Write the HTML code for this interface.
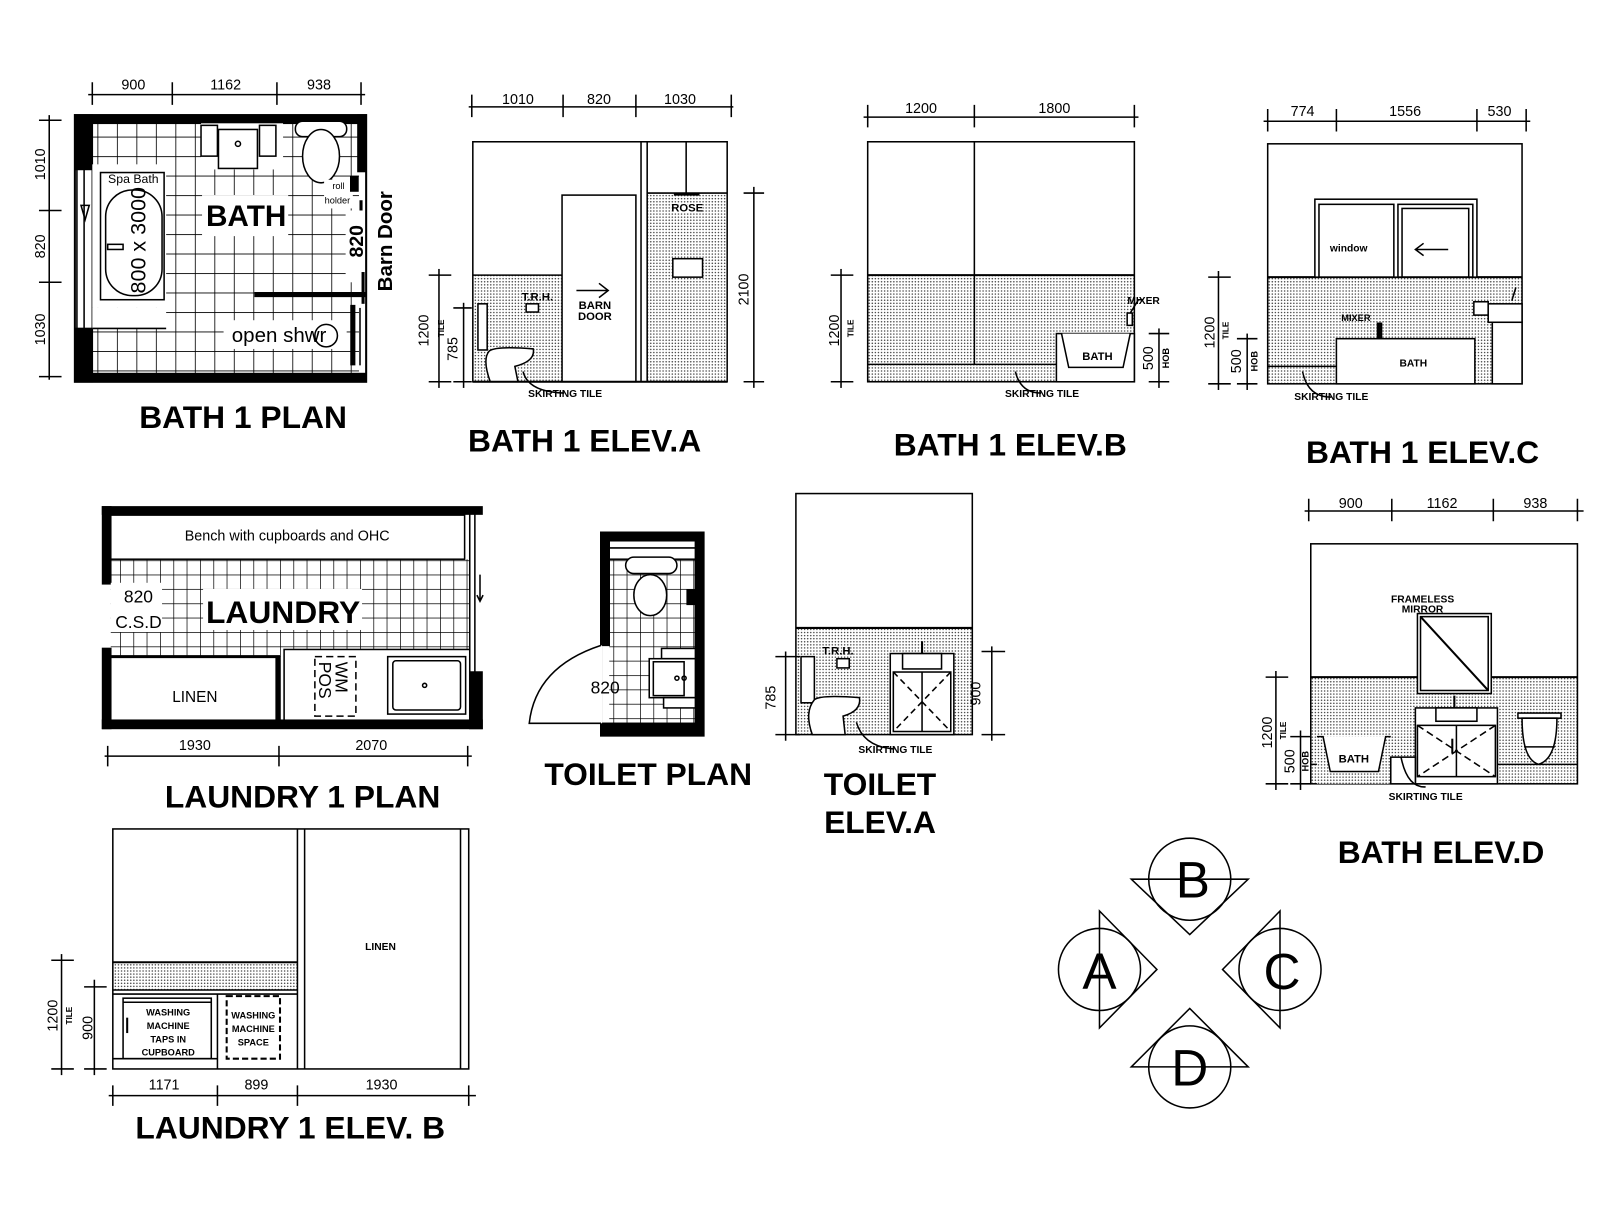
<!DOCTYPE html>
<html><head><meta charset="utf-8"><style>
html,body{margin:0;padding:0;background:#fff;}
svg{display:block;}
text{font-family:"Liberation Sans",sans-serif;fill:#000;}
.t{font-weight:bold;font-size:31px;text-anchor:middle;}
.d{font-size:14px;text-anchor:middle;}
.s{font-size:9px;font-weight:bold;text-anchor:middle;}
</style></head><body>
<svg width="1600" height="1222" viewBox="0 0 1560 1191" xmlns="http://www.w3.org/2000/svg">
<defs>
<pattern id="dots" width="3" height="3" patternUnits="userSpaceOnUse"><rect width="3" height="3" fill="#fff"/><circle cx="1.5" cy="1.5" r="0.75" fill="#444"/></pattern>
<pattern id="tile" width="19" height="19" patternUnits="userSpaceOnUse"><rect width="19" height="19" fill="#fff"/><path d="M0 0H19M0 0V19" stroke="#000" stroke-width="1.6"/></pattern>
<pattern id="tile2" width="13" height="14" patternUnits="userSpaceOnUse"><rect width="13" height="14" fill="#fff"/><path d="M0 0H13M0 0V14" stroke="#000" stroke-width="1.4"/></pattern>
</defs>
<g fill="none" stroke="#000" stroke-width="1.5">

<!-- ================= BATH 1 PLAN ================= -->
<rect x="90" y="120" width="260" height="245" fill="url(#tile)" stroke="none"/>
<rect x="73" y="112" width="284" height="260" stroke-width="2"/>
<rect x="73" y="112" width="284" height="8" fill="#000"/>
<rect x="73" y="364" width="284" height="8" fill="#000"/>
<rect x="73" y="112" width="17" height="53" fill="#000"/>
<rect x="73" y="320" width="17" height="52" fill="#000"/>
<rect x="349" y="112" width="8" height="55" fill="#000"/>
<rect x="75" y="165" width="15" height="155" fill="#fff"/>
<line x1="82" y1="165" x2="82" y2="320"/>
<path d="M79 200 L87 200 L83 214 Z"/>
<rect x="90" y="160" width="72" height="140" fill="#fff" stroke="none"/>
<rect x="98" y="168" width="62" height="124" fill="#fff"/>
<rect x="103" y="185" width="55" height="103" rx="26" fill="#fff"/>
<rect x="90" y="300" width="72" height="20" fill="#fff" stroke="none"/>
<line x1="90" y1="320" x2="162" y2="320"/>
<text x="130" y="178" style="font-size:12px" text-anchor="middle" stroke="none">Spa Bath</text>
<text transform="translate(142,234) rotate(-90)" style="font-size:21px" text-anchor="middle" stroke="none">800 x 3000</text>
<rect x="105" y="238" width="15" height="5" fill="#fff"/>
<rect x="196" y="120" width="80" height="45" fill="#fff" stroke="none"/>
<rect x="196" y="122" width="16" height="30" fill="#fff"/>
<rect x="253" y="122" width="16" height="30" fill="#fff"/>
<rect x="213" y="126" width="38" height="38" fill="#fff"/>
<circle cx="232" cy="140" r="2.5"/>
<rect x="288" y="118" width="50" height="15" rx="7" fill="#fff"/>
<ellipse cx="313" cy="152" rx="18" ry="26" fill="#fff"/>
<rect x="197" y="190" width="84" height="40" fill="#fff" stroke="none"/>
<text x="240" y="220" style="font-size:29px;font-weight:bold" text-anchor="middle" stroke="none">BATH</text>
<rect x="316" y="175" width="28" height="28" fill="#fff" stroke="none"/>
<text x="330" y="184" style="font-size:9px" text-anchor="middle" stroke="none">roll</text>
<text x="329" y="198" style="font-size:9px" text-anchor="middle" stroke="none">holder</text>
<rect x="342" y="172" width="7" height="14" fill="#000"/>
<line x1="352" y1="195" x2="352" y2="270" stroke-width="3"/>
<rect x="337" y="205" width="18" height="70" fill="#fff" stroke="none"/>
<text transform="translate(354,235) rotate(-90)" style="font-size:19px;font-weight:bold" text-anchor="middle" stroke="none">820</text>
<text transform="translate(382,235) rotate(-90)" style="font-size:20px;font-weight:bold" text-anchor="middle" stroke="none">Barn Door</text>
<line x1="248" y1="287" x2="357" y2="287" stroke-width="5"/>
<line x1="354" y1="265" x2="354" y2="296" stroke-width="3"/>
<rect x="218" y="312" width="120" height="28" fill="#fff" stroke="none"/>
<text x="226" y="333" style="font-size:20px" stroke="none">open  shwr</text>
<circle cx="318" cy="327" r="11"/>
<line x1="344" y1="297" x2="344" y2="356" stroke-width="5"/>
<line x1="351" y1="300" x2="351" y2="356"/>
<!-- dims -->
<line x1="86" y1="92" x2="356" y2="92"/>
<path d="M90 80V102M168 80V102M270 80V102M352 80V102"/>
<text x="130" y="87" class="d" stroke="none">900</text>
<text x="220" y="87" class="d" stroke="none">1162</text>
<text x="311" y="87" class="d" stroke="none">938</text>
<line x1="48" y1="112" x2="48" y2="370"/>
<path d="M38 117H60M38 205H60M38 275H60M38 367H60"/>
<text transform="translate(44,160) rotate(-90)" class="d" stroke="none">1010</text>
<text transform="translate(44,240) rotate(-90)" class="d" stroke="none">820</text>
<text transform="translate(44,321) rotate(-90)" class="d" stroke="none">1030</text>
<text x="237" y="417" class="t" stroke="none">BATH 1 PLAN</text>

<!-- ================= BATH 1 ELEV A ================= -->
<rect x="461" y="268" width="87" height="104" fill="url(#dots)" stroke="none"/>
<rect x="631" y="188" width="78" height="184" fill="url(#dots)" stroke="none"/>
<rect x="461" y="138" width="248" height="234"/>
<line x1="461" y1="268" x2="548" y2="268"/>
<line x1="631" y1="188" x2="709" y2="188"/>
<line x1="625" y1="138" x2="625" y2="372"/>
<line x1="631" y1="138" x2="631" y2="372"/>
<line x1="669" y1="138" x2="669" y2="188"/>
<line x1="657" y1="189" x2="682" y2="189" stroke-width="3"/>
<rect x="548" y="190" width="72" height="182" fill="#fff"/>
<path d="M562 283H593M584 276L593 283L584 290"/>
<text x="580" y="301" class="s" stroke="none" style="font-size:11px">BARN</text>
<text x="580" y="312" class="s" stroke="none" style="font-size:11px">DOOR</text>
<rect x="655" y="199" width="30" height="8" fill="#fff" stroke="none"/>
<text x="670" y="206" class="s" stroke="none" style="font-size:11px">ROSE</text>
<rect x="656" y="252" width="29" height="18" fill="#fff"/>
<rect x="513" y="296" width="12" height="8" fill="#fff"/>
<text x="524" y="293" class="s" stroke="none" style="font-size:11px">T.R.H.</text>
<rect x="466" y="296" width="9" height="45" fill="#fff"/>
<path d="M477 342 Q484 337 520 340 Q522 352 502 357 L505 372 L478 372 Q470 350 477 342Z" fill="#fff"/>
<line x1="461" y1="372" x2="709" y2="372" stroke-width="2"/>
<path d="M510 362 Q515 382 550 383"/>
<text x="551" y="387" class="s" stroke="none" text-anchor="start" style="font-size:10px">SKIRTING TILE</text>
<line x1="457" y1="104" x2="715" y2="104"/>
<path d="M460 92V114M549 92V114M620 92V114M713 92V114"/>
<text x="505" y="101" class="d" stroke="none">1010</text>
<text x="584" y="101" class="d" stroke="none">820</text>
<text x="663" y="101" class="d" stroke="none">1030</text>
<line x1="428" y1="262" x2="428" y2="378"/>
<path d="M418 268H440M418 372H440M442 300H460M442 372H460"/>
<line x1="452" y1="295" x2="452" y2="378"/>
<text transform="translate(418,322) rotate(-90)" class="d" stroke="none">1200</text>
<text transform="translate(433,320) rotate(-90)" class="s" stroke="none" style="font-size:8px">TILE</text>
<text transform="translate(446,340) rotate(-90)" class="d" stroke="none">785</text>
<line x1="735" y1="182" x2="735" y2="378"/>
<path d="M725 188H745M725 372H745"/>
<text transform="translate(730,282) rotate(-90)" class="d" stroke="none">2100</text>
<text x="570" y="440" class="t" stroke="none">BATH 1 ELEV.A</text>

<!-- ================= BATH 1 ELEV B ================= -->
<rect x="846" y="268" width="260" height="104" fill="url(#dots)" stroke="none"/>
<rect x="846" y="138" width="260" height="234"/>
<line x1="846" y1="268" x2="1106" y2="268" stroke-width="2"/>
<line x1="950" y1="138" x2="950" y2="355"/>
<line x1="846" y1="355" x2="1030" y2="355"/>
<rect x="1030" y="325" width="76" height="47" fill="#fff"/>
<path d="M1035 325 L1042 358 L1095 358 L1102 325" fill="#fff"/>
<text x="1070" y="351" class="s" stroke="none" style="font-size:11px">BATH</text>
<rect x="1099" y="305" width="5" height="12" fill="#fff"/>
<path d="M1102 305 L1110 292 L1114 292"/>
<text x="1115" y="296" class="s" stroke="none" text-anchor="start" style="font-size:10px">MIXER</text>
<path d="M990 362 Q995 383 1015 383"/>
<text x="1016" y="387" class="s" stroke="none" text-anchor="start" style="font-size:10px">SKIRTING TILE</text>
<line x1="842" y1="114" x2="1110" y2="114"/>
<path d="M846 102V124M950 102V124M1106 102V124"/>
<text x="898" y="110" class="d" stroke="none">1200</text>
<text x="1028" y="110" class="d" stroke="none">1800</text>
<line x1="820" y1="262" x2="820" y2="378"/>
<path d="M810 268H832M810 372H832"/>
<text transform="translate(818,322) rotate(-90)" class="d" stroke="none">1200</text>
<text transform="translate(832,320) rotate(-90)" class="s" stroke="none" style="font-size:8px">TILE</text>
<line x1="1130" y1="320" x2="1130" y2="378"/>
<path d="M1120 325H1140M1120 372H1140"/>
<text transform="translate(1124,349) rotate(-90)" class="d" stroke="none">500</text>
<text transform="translate(1140,349) rotate(-90)" class="s" stroke="none" style="font-size:9px">HOB</text>
<text x="985" y="444" class="t" stroke="none">BATH 1 ELEV.B</text>

<!-- ================= BATH 1 ELEV C ================= -->
<rect x="1236" y="270" width="248" height="104" fill="url(#dots)" stroke="none"/>
<rect x="1236" y="140" width="248" height="234"/>
<line x1="1236" y1="270" x2="1484" y2="270" stroke-width="2"/>
<line x1="1236" y1="357" x2="1303" y2="357"/>
<rect x="1282" y="194" width="158" height="76" fill="#fff"/>
<rect x="1286" y="199" width="73" height="71"/>
<rect x="1363" y="199" width="73" height="71"/>
<rect x="1367" y="203" width="65" height="67"/>
<text x="1315" y="245" class="s" stroke="none" style="font-size:10px">window</text>
<path d="M1412 243H1380M1388 237L1380 243L1388 249"/>
<rect x="1303" y="330" width="135" height="44" fill="#fff"/>
<text x="1378" y="357" class="s" stroke="none" style="font-size:10px">BATH</text>
<rect x="1343" y="315" width="4" height="14" fill="#000"/>
<text x="1322" y="313" class="s" stroke="none" style="font-size:9px">MIXER</text>
<rect x="1437" y="294" width="14" height="13" fill="#fff"/>
<rect x="1451" y="296" width="33" height="18" fill="#fff"/>
<rect x="1455" y="314" width="29" height="60" fill="#fff"/>
<path d="M1474 293 L1478 280"/>
<path d="M1270 362 Q1275 387 1298 387"/>
<text x="1298" y="390" class="s" stroke="none" text-anchor="start" style="font-size:10px">SKIRTING TILE</text>
<line x1="1232" y1="118" x2="1492" y2="118"/>
<path d="M1236 106V128M1303 106V128M1440 106V128M1488 106V128"/>
<text x="1270" y="113" class="d" stroke="none">774</text>
<text x="1370" y="113" class="d" stroke="none">1556</text>
<text x="1462" y="113" class="d" stroke="none">530</text>
<line x1="1188" y1="264" x2="1188" y2="380"/>
<path d="M1178 270H1200M1178 374H1200"/>
<text transform="translate(1184,324) rotate(-90)" class="d" stroke="none">1200</text>
<text transform="translate(1198,322) rotate(-90)" class="s" stroke="none" style="font-size:8px">TILE</text>
<line x1="1216" y1="325" x2="1216" y2="380"/>
<path d="M1206 330H1226M1206 374H1226"/>
<text transform="translate(1210,352) rotate(-90)" class="d" stroke="none">500</text>
<text transform="translate(1226,352) rotate(-90)" class="s" stroke="none" style="font-size:9px">HOB</text>
<text x="1387" y="451" class="t" stroke="none">BATH 1 ELEV.C</text>

<!-- ================= LAUNDRY 1 PLAN ================= -->
<rect x="108" y="545" width="350" height="95" fill="url(#tile2)" stroke="none"/>
<rect x="100" y="494" width="370" height="7" fill="#000"/>
<rect x="100" y="494" width="8" height="75" fill="#000"/>
<rect x="100" y="632" width="8" height="78" fill="#000"/>
<rect x="100" y="702" width="370" height="8" fill="#000"/>
<rect x="458" y="655" width="12" height="55" fill="#000"/>
<line x1="458" y1="501" x2="458" y2="655"/>
<line x1="463" y1="501" x2="463" y2="655"/>
<path d="M468 560V585M465 580L468 586L471 580"/>
<rect x="108" y="502" width="345" height="43" fill="#fff"/>
<text x="280" y="527" style="font-size:14px" text-anchor="middle" stroke="none">Bench with cupboards and OHC</text>
<rect x="108" y="568" width="50" height="48" fill="#fff" stroke="none"/>
<text x="135" y="587" style="font-size:17px" text-anchor="middle" stroke="none">820</text>
<text x="135" y="612" style="font-size:17px" text-anchor="middle" stroke="none">C.S.D</text>
<rect x="198" y="574" width="155" height="40" fill="#fff" stroke="none"/>
<text x="276" y="607" style="font-size:31px;font-weight:bold" text-anchor="middle" stroke="none">LAUNDRY</text>
<rect x="108" y="640" width="165" height="62" fill="#fff"/>
<line x1="108" y1="640" x2="273" y2="640" stroke-width="3"/>
<line x1="271" y1="640" x2="271" y2="702" stroke-width="5"/>
<text x="190" y="684" style="font-size:15px" text-anchor="middle" stroke="none">LINEN</text>
<rect x="277" y="633" width="181" height="69" fill="#fff"/>
<rect x="307" y="640" width="40" height="58" stroke-dasharray="7,4"/>
<text transform="translate(327,645) rotate(90)" style="font-size:17px" stroke="none">WM</text>
<text transform="translate(311,645) rotate(90)" style="font-size:17px" stroke="none">POS</text>
<rect x="378" y="640" width="76" height="56"/>
<rect x="383" y="644" width="66" height="48" rx="3"/>
<circle cx="414" cy="668" r="2"/>
<line x1="102" y1="737" x2="460" y2="737"/>
<path d="M105 727V747M272 727V747M456 727V747"/>
<text x="190" y="731" class="d" stroke="none">1930</text>
<text x="362" y="731" class="d" stroke="none">2070</text>
<text x="295" y="787" class="t" stroke="none">LAUNDRY 1 PLAN</text>

<!-- ================= TOILET PLAN ================= -->
<rect x="594" y="545" width="84" height="160" fill="url(#tile2)" stroke="none"/>
<rect x="586" y="519" width="100" height="198" stroke-width="2"/>
<rect x="586" y="519" width="100" height="8" fill="#000"/>
<rect x="586" y="519" width="8" height="110" fill="#000"/>
<rect x="586" y="705" width="100" height="12" fill="#000"/>
<rect x="678" y="519" width="8" height="198" fill="#000"/>
<rect x="594" y="527" width="84" height="18" fill="#fff"/>
<line x1="594" y1="534" x2="678" y2="534"/>
<rect x="610" y="543" width="50" height="16" rx="8" fill="#fff"/>
<ellipse cx="634" cy="580" rx="16" ry="20" fill="#fff"/>
<rect x="670" y="575" width="8" height="14" fill="#000"/>
<rect x="645" y="632" width="33" height="10" fill="#fff"/>
<rect x="633" y="642" width="45" height="38" fill="#fff"/>
<rect x="637" y="645" width="30" height="33" fill="#fff"/>
<circle cx="660" cy="661" r="2"/><circle cx="667" cy="661" r="2"/>
<rect x="647" y="680" width="31" height="10" fill="#fff"/>
<rect x="577" y="629" width="10" height="76" fill="#fff" stroke="none"/>
<path d="M586 629 Q522 650 516 705 L586 705"/>
<text x="590" y="676" style="font-size:17px" text-anchor="middle" stroke="none">820</text>
<text x="632" y="765" class="t" stroke="none">TOILET PLAN</text>

<!-- ================= TOILET ELEV A ================= -->
<rect x="776" y="612" width="172" height="104" fill="url(#dots)" stroke="none"/>
<rect x="776" y="481" width="172" height="235"/>
<line x1="776" y1="612" x2="948" y2="612" stroke-width="2"/>
<rect x="868" y="637" width="62" height="79" fill="#fff"/>
<rect x="880" y="637" width="38" height="15" fill="#fff"/>
<line x1="899" y1="625" x2="899" y2="637" stroke-width="2"/>
<rect x="871" y="655" width="56" height="58"/>
<path d="M871 655L927 713M927 655L871 713" stroke-dasharray="6,4"/>
<line x1="899" y1="655" x2="899" y2="713"/>
<rect x="816" y="642" width="12" height="9" fill="#fff"/>
<text x="817" y="638" class="s" stroke="none" style="font-size:11px">T.R.H.</text>
<rect x="781" y="640" width="13" height="45" fill="#fff"/>
<path d="M794 682 Q800 677 838 680 Q840 693 822 698 L824 716 L792 716 Q784 694 794 682Z" fill="#fff"/>
<path d="M835 704 Q842 728 872 730"/>
<text x="873" y="734" class="s" stroke="none" text-anchor="start" style="font-size:10px">SKIRTING TILE</text>
<line x1="766" y1="635" x2="766" y2="722"/>
<path d="M756 640H780M756 716H780"/>
<text transform="translate(756,680) rotate(-90)" class="d" stroke="none">785</text>
<line x1="967" y1="630" x2="967" y2="722"/>
<path d="M957 635H980M957 716H980"/>
<text transform="translate(956,676) rotate(-90)" class="d" stroke="none">900</text>
<text x="858" y="775" class="t" stroke="none">TOILET</text>
<text x="858" y="812" class="t" stroke="none">ELEV.A</text>

<!-- ================= BATH ELEV D ================= -->
<rect x="1278" y="660" width="260" height="104" fill="url(#dots)" stroke="none"/>
<rect x="1278" y="530" width="260" height="234"/>
<line x1="1278" y1="660" x2="1538" y2="660" stroke-width="2"/>
<line x1="1278" y1="745" x2="1538" y2="745"/>
<rect x="1382" y="598" width="72" height="78" fill="#fff"/>
<rect x="1385" y="601" width="66" height="72"/>
<line x1="1385" y1="601" x2="1451" y2="673" stroke-width="2"/>
<text x="1387" y="587" class="s" stroke="none" text-anchor="start" style="font-size:10px">FRAMELESS</text>
<text x="1387" y="597" class="s" stroke="none" text-anchor="start" style="font-size:10px">MIRROR</text>
<line x1="1418" y1="678" x2="1418" y2="690" stroke-width="2"/>
<rect x="1380" y="690" width="80" height="74" fill="#fff"/>
<rect x="1400" y="690" width="40" height="13" fill="#fff"/>
<rect x="1382" y="707" width="76" height="50"/>
<path d="M1382 707L1458 757M1458 707L1382 757" stroke-dasharray="7,4"/>
<line x1="1420" y1="707" x2="1420" y2="757"/>
<line x1="1416" y1="720" x2="1416" y2="734" stroke-width="2"/>
<rect x="1284" y="718" width="72" height="46" fill="url(#dots)" stroke="none"/>
<path d="M1284 718H1290L1297 752H1344L1351 718H1356" fill="#fff"/>
<text x="1320" y="743" class="s" stroke="none" style="font-size:11px">BATH</text>
<rect x="1356" y="738" width="24" height="26" fill="#fff"/>
<rect x="1480" y="695" width="42" height="5" fill="#fff"/>
<path d="M1484 700 Q1484 740 1500 745 Q1518 740 1518 700Z" fill="#fff"/>
<line x1="1486" y1="728" x2="1516" y2="728"/>
<path d="M1366 738 Q1372 768 1390 767"/>
<text x="1390" y="780" class="s" stroke="none" text-anchor="start" style="font-size:10px">SKIRTING TILE</text>
<line x1="1272" y1="498" x2="1544" y2="498"/>
<path d="M1276 486V508M1357 486V508M1456 486V508M1538 486V508"/>
<text x="1317" y="495" class="d" stroke="none">900</text>
<text x="1406" y="495" class="d" stroke="none">1162</text>
<text x="1497" y="495" class="d" stroke="none">938</text>
<line x1="1244" y1="654" x2="1244" y2="770"/>
<path d="M1234 660H1256M1234 764H1256"/>
<text transform="translate(1240,714) rotate(-90)" class="d" stroke="none">1200</text>
<text transform="translate(1254,712) rotate(-90)" class="s" stroke="none" style="font-size:8px">TILE</text>
<line x1="1268" y1="712" x2="1268" y2="770"/>
<path d="M1258 718H1278M1258 764H1278"/>
<text transform="translate(1262,742) rotate(-90)" class="d" stroke="none">500</text>
<text transform="translate(1276,742) rotate(-90)" class="s" stroke="none" style="font-size:9px">HOB</text>
<text x="1405" y="841" class="t" stroke="none">BATH ELEV.D</text>

<!-- ================= LAUNDRY 1 ELEV B ================= -->
<rect x="111" y="938" width="179" height="27" fill="url(#dots)" stroke="none"/>
<rect x="110" y="808" width="347" height="234"/>
<line x1="110" y1="938" x2="290" y2="938" stroke-width="2"/>
<line x1="290" y1="808" x2="290" y2="1042"/>
<line x1="297" y1="808" x2="297" y2="1042"/>
<line x1="449" y1="808" x2="449" y2="1042"/>
<line x1="110" y1="965" x2="290" y2="965"/>
<line x1="110" y1="969" x2="290" y2="969"/>
<line x1="212" y1="969" x2="212" y2="1042"/>
<rect x="120" y="973" width="86" height="59"/>
<line x1="120" y1="977" x2="206" y2="977"/>
<line x1="110" y1="1032" x2="212" y2="1032"/>
<line x1="124" y1="992" x2="124" y2="1007" stroke-width="2"/>
<rect x="221" y="971" width="52" height="61" stroke-dasharray="6,3" stroke-width="2"/>
<g class="s" stroke="none" style="font-size:9.5px">
<text x="164" y="990" class="s">WASHING</text><text x="164" y="1003" class="s">MACHINE</text><text x="164" y="1016" class="s">TAPS  IN</text><text x="164" y="1029" class="s">CUPBOARD</text>
<text x="247" y="993" class="s">WASHING</text><text x="247" y="1006" class="s">MACHINE</text><text x="247" y="1019" class="s">SPACE</text>
</g>
<text x="371" y="926" class="s" stroke="none" style="font-size:10px">LINEN</text>
<line x1="106" y1="1068" x2="464" y2="1068"/>
<path d="M110 1058V1078M212 1058V1078M290 1058V1078M457 1058V1078"/>
<text x="160" y="1062" class="d" stroke="none">1171</text>
<text x="250" y="1062" class="d" stroke="none">899</text>
<text x="372" y="1062" class="d" stroke="none">1930</text>
<line x1="60" y1="930" x2="60" y2="1048"/>
<path d="M50 936H72M50 1042H72"/>
<text transform="translate(56,990) rotate(-90)" class="d" stroke="none">1200</text>
<text transform="translate(70,990) rotate(-90)" class="s" stroke="none" style="font-size:8px">TILE</text>
<line x1="92" y1="955" x2="92" y2="1048"/>
<path d="M82 962H104M82 1042H104"/>
<text transform="translate(90,1002) rotate(-90)" class="d" stroke="none">900</text>
<text x="283" y="1110" class="t" stroke="none">LAUNDRY  1 ELEV. B</text>

<!-- ================= COMPASS ================= -->
<path d="M1103 857H1217L1160 911Z" fill="#fff"/>
<path d="M1103 1040H1217L1160 983Z" fill="#fff"/>
<path d="M1072 888V1002L1128 945Z" fill="#fff"/>
<path d="M1248 888V1002L1192 945Z" fill="#fff"/>
<circle cx="1160" cy="857" r="40" fill="none"/>
<circle cx="1072" cy="945" r="40" fill="none"/>
<circle cx="1248" cy="945" r="40" fill="none"/>
<circle cx="1160" cy="1040" r="40" fill="none"/>
<g stroke="none" style="font-size:50px" text-anchor="middle">
<text x="1163" y="875">B</text><text x="1072" y="964">A</text><text x="1250" y="964">C</text><text x="1160" y="1058">D</text>
</g>
</g>
</svg>
</body></html>
